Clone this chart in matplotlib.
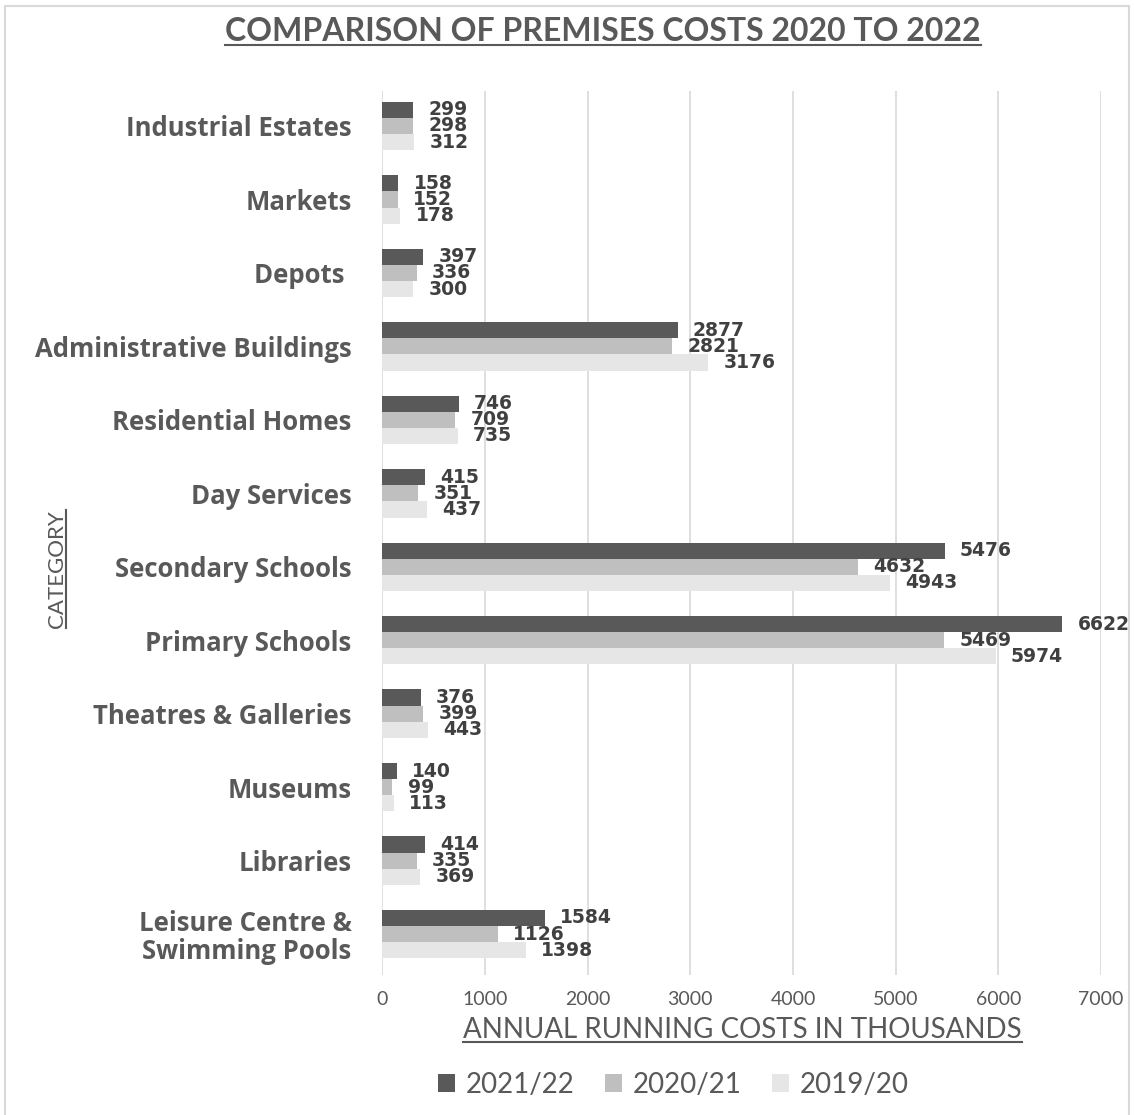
import matplotlib
matplotlib.use("Agg")
import matplotlib.pyplot as plt
import numpy as np
from matplotlib.lines import Line2D
from matplotlib.patches import Rectangle

# data, top to bottom as in the chart
categories = ["Industrial Estates", "Markets", "Depots ", "Administrative Buildings",
              "Residential Homes", "Day Services", "Secondary Schools", "Primary Schools",
              "Theatres & Galleries", "Museums", "Libraries",
              "Leisure Centre &\nSwimming Pools"]
costs_2122 = [299, 158, 397, 2877, 746, 415, 5476, 6622, 376, 140, 414, 1584]
costs_2021 = [298, 152, 336, 2821, 709, 351, 4632, 5469, 399, 99, 335, 1126]
costs_1920 = [312, 178, 300, 3176, 735, 437, 4943, 5974, 443, 113, 369, 1398]
series_names = ["2021/22", "2020/21", "2019/20"]
x_ticks = [0, 1000, 2000, 3000, 4000, 5000, 6000, 7000]

colors = ["#595959", "#bfbfbf", "#e6e6e6"]
txt = "#595959"
narrow = ["Lato", "DejaVu Sans"]
cat_font = ["Open Sans", "DejaVu Sans"]

fig = plt.figure(figsize=(11.34, 11.15), dpi=100)
ax = fig.add_axes([0.337, 0.126, 0.634, 0.792])

y = np.arange(len(categories))
h = 0.22
for i, (vals, name) in enumerate(zip([costs_2122, costs_2021, costs_1920], series_names)):
    pos = y + (i - 1) * h
    ax.barh(pos, vals, height=h, color=colors[i], label=name, zorder=3)
    for p, v in zip(pos, vals):
        ax.annotate(str(v), (v, p), xytext=(11, 0), textcoords="offset points",
                    va="center", ha="left", fontsize=13.5, fontweight="bold", color="#404040")

ax.set_ylim(len(categories) - 0.45, -0.47)
ax.set_xlim(0, 7000)
ax.set_yticks(y)
ax.set_yticklabels(categories, fontsize=18.5, fontweight="bold", color=txt,
                   family=cat_font, linespacing=1.05)
ax.set_xticks(x_ticks)
ax.set_xticklabels([str(t) for t in x_ticks], fontsize=14, color=txt, family=narrow)
ax.tick_params(axis="y", length=0, pad=22)
ax.tick_params(axis="x", length=0, pad=12)
ax.grid(axis="x", color="#d9d9d9", lw=1.2, zorder=0)
for s in ax.spines.values():
    s.set_visible(False)

title = fig.text(0.532, 0.972, "COMPARISON OF PREMISES COSTS 2020 TO 2022", ha="center", va="center",
                 fontsize=23, fontweight="bold", color=txt, family=narrow)
xlab = fig.text(0.655, 0.076, "ANNUAL RUNNING COSTS IN THOUSANDS", ha="center", va="center",
                fontsize=20, color=txt, family=narrow)
ylab = fig.text(0.05, 0.49, "CATEGORY", ha="center", va="center", rotation=90,
                fontsize=16, color=txt, family=narrow)

leg = fig.legend(loc="center", bbox_to_anchor=(0.594, 0.027), ncol=3, frameon=False,
                 prop={"size": 20, "family": narrow}, handlelength=0.6, handleheight=0.6,
                 handletextpad=0.4, columnspacing=1.1)
for t in leg.get_texts():
    t.set_color(txt)

fig.add_artist(Rectangle((0.004, -0.02), 0.992, 1.015, transform=fig.transFigure,
                         fill=False, edgecolor="#d9d9d9", lw=1.5))

# underline the titles
fig.canvas.draw()
r = fig.canvas.get_renderer()
for t in (title, xlab):
    bb = t.get_window_extent(r)
    yy = bb.y0 + 1
    fig.add_artist(Line2D([bb.x0, bb.x1], [yy, yy], transform=None, color=txt, lw=1.5))
bb = ylab.get_window_extent(r)
fig.add_artist(Line2D([bb.x1 - 1, bb.x1 - 1], [bb.y0, bb.y1], transform=None, color=txt, lw=1.5))

fig.savefig("out.png", dpi=100)
